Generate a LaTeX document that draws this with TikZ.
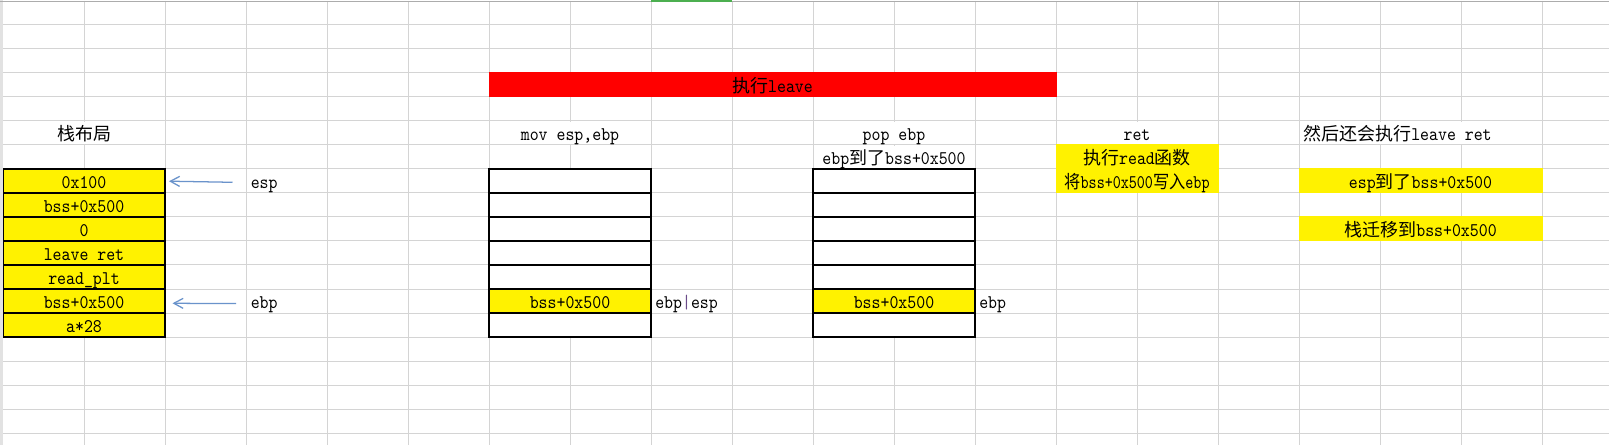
\documentclass[tikz,border=0pt]{standalone}
\usepackage{fontspec}
\usepackage{graphicx}
\setmonofont{lmmono10-regular}[Extension=.otf,FakeStretch=0.88]
\newfontfamily\cjk{Noto Sans CJK SC}
\newcommand\zh[1]{{\fontsize{13.5}{16}\selectfont\cjk #1}}
\usetikzlibrary{arrows.meta}
\definecolor{gridc}{HTML}{D4D4D4}
\definecolor{arrowc}{HTML}{6A93CB}
\definecolor{xlgreen}{HTML}{4CAF50}
\definecolor{hdrgray}{HTML}{E2E2E2}
\definecolor{pipec}{HTML}{6B4C8A}
\begin{document}
\begin{tikzpicture}[x=0.75pt,y=-0.75pt,
  txt/.style={inner sep=0pt,anchor=base,font=\fontsize{14.5}{16}\selectfont\ttfamily},
  ltxt/.style={txt,anchor=base west},
  cellbox/.style={draw=black,line width=0.85pt,fill=white},
  ycell/.style={cellbox,fill=yellow},
  gridl/.style={draw=gridc,line width=0.75pt},
  hideline/.style={draw=white,line width=1.6pt},
  ptr/.style={draw=arrowc,line width=0.95pt,-{Straight Barb[length=7pt,width=7.5pt]}}]

\useasboundingbox (0,0) rectangle (1609,445);
\fill[white] (0,0) rectangle (1609,445);

% grid lines
\foreach \k in {1,...,19} \draw[gridl] ({3+81*\k},1) -- ({3+81*\k},445);
\foreach \k in {1,...,18} \draw[gridl] (3,{1+24*\k}) -- (1609,{1+24*\k});

% sheet edges
\fill[hdrgray] (0,0) rectangle (3,445);
\draw[draw=gray!65,line width=0.9pt] (0,1.4) -- (1609,1.4);
\fill[xlgreen] (651,0) rectangle (732,1.9);

% gridlines hidden by merged cells / overflowing text
\foreach \x in {84,570,894,1137,1380,1461} \draw[hideline] (\x,121.6) -- (\x,144.4);
\draw[hideline] (894,145.6) -- (894,168.4);

% fills
\fill[red] (488.5,72.5) rectangle (1056.5,97.5);
\fill[yellow] (1055.5,144.5) rectangle (1218.5,193.5);
\fill[yellow] (1298.5,168.5) rectangle (1542.5,193.5);
\fill[yellow] (1298.5,216.5) rectangle (1542.5,241.5);

% header texts
\node[txt] (leave) at (772.5,92.5) {\zh{执行}leave};
\node[txt] (h1) at (84,140.5) {\zh{栈布局}};
\node[txt] (h2) at (570,140.5) {mov esp,ebp};
\node[txt] (h3) at (894,140.5) {pop ebp};
\node[txt] (h4) at (1137,140.5) {ret};
\node[ltxt] (h5) at (1303,140.5) {\zh{然后还会执行}leave ret};

\node[txt] (popnote) at (894,164.5) {ebp\zh{到了}bss+0x500};
\node[txt] (retnote1) at (1137,164.5) {\zh{执行}read\zh{函数}};
\node[txt] (retnote2) at (1137,188.5) {\scalebox{0.9}[1]{\zh{将}bss+0x500\zh{写入}ebp}};
\node[txt] (note1) at (1420.5,188.5) {esp\zh{到了}bss+0x500};
\node[txt] (note2) at (1420.5,236.5) {\zh{栈迁移到}bss+0x500};

% stack 1
\foreach \r in {7,...,13} \draw[ycell] (3.3,{1+24*\r}) rectangle (165,{25+24*\r});
\node[txt] (s1a) at (84,188.5) {0x100};
\node[txt] (s1b) at (84,212.5) {bss+0x500};
\node[txt] (s1c) at (84,236.5) {0};
\node[txt] (s1d) at (84,260.5) {leave ret};
\node[txt] (s1e) at (84,284.5) {read\_plt};
\node[txt] (s1f) at (84,308.5) {bss+0x500};
\node[txt] (s1g) at (84,332.5) {a*28};

% stack 2
\foreach \r in {7,...,13} \draw[cellbox] (489,{1+24*\r}) rectangle (651,{25+24*\r});
\draw[ycell] (489,289) rectangle (651,313);
\node[txt] (s2f) at (570,308.5) {bss+0x500};
\node[ltxt] (s2lab) at (655,308.5) {ebp{\color{pipec}|}esp};

% stack 3
\foreach \r in {7,...,13} \draw[cellbox] (813,{1+24*\r}) rectangle (975,{25+24*\r});
\draw[ycell] (813,289) rectangle (975,313);
\node[txt] (s3f) at (894,308.5) {bss+0x500};
\node[ltxt] (s3lab) at (979,308.5) {ebp};

% pointer labels and arrows
\node[ltxt] (esp) at (250.5,188.5) {esp};
\node[ltxt] (ebp) at (250.5,308.5) {ebp};
\coordinate (a1s) at (232.5,182.3);
\coordinate (a1e) at (169,181.2);
\coordinate (a2s) at (236,303.6);
\coordinate (a2e) at (172.5,303.3);
\draw[ptr] (a1s) -- (a1e);
\draw[ptr] (a2s) -- (a2e);
\end{tikzpicture}
\end{document}
